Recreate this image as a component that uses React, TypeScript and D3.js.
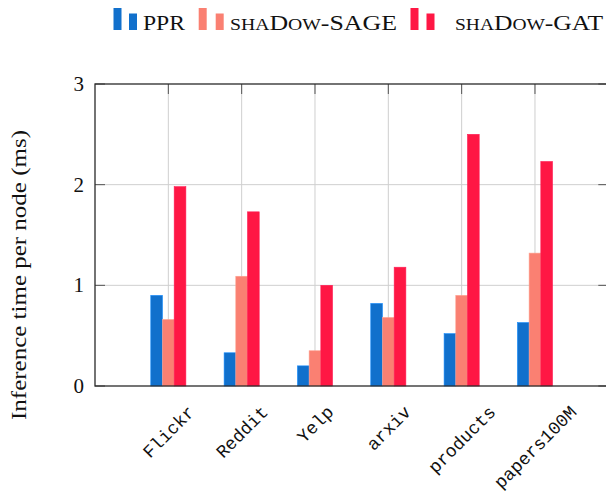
import React, { useEffect, useRef } from 'react';
import * as d3 from 'd3';

// values (ms per node)
const categories = ['Flickr', 'Reddit', 'Yelp', 'arxiv', 'products', 'papers100M'];
const pprTimes = [0.9, 0.33, 0.2, 0.82, 0.52, 0.63];
const sageTimes = [0.66, 1.09, 0.35, 0.68, 0.9, 1.32];
const gatTimes = [1.98, 1.73, 1.0, 1.18, 2.5, 2.23];
const yTicks = [0, 1, 2, 3];

const seriesNames = ['PPR', 'shaDow-SAGE', 'shaDow-GAT'];
const seriesColors = ['#1170cc', '#fa8072', '#ff1744'];

const WIDTH = 606;
const HEIGHT = 502;

const App: React.FC = () => {
  const svgRef = useRef<SVGSVGElement>(null);

  useEffect(() => {
    if (!svgRef.current) return;
    const svg = d3.select(svgRef.current);
    svg.selectAll('*').remove();

    const left = 95;
    const right = 608.3;
    const top = 84;
    const bottom = 386;
    const barWidth = 11.7;
    const serif = '"Liberation Serif", "Times New Roman", serif';
    const mono = '"Liberation Mono", "DejaVu Sans Mono", monospace';

    const series = [pprTimes, sageTimes, gatTimes].map((values, i) => ({
      name: seriesNames[i],
      color: seriesColors[i],
      values
    }));

    const x = d3.scalePoint<string>().domain(categories).range([left, right]).padding(1);
    const y = d3.scaleLinear().domain([0, 3]).range([bottom, top]);

    // grid
    const grid = svg.append('g').attr('stroke', '#cfcfcf').attr('stroke-width', 1);
    grid.selectAll('.vgrid')
      .data(categories)
      .enter()
      .append('line')
      .attr('x1', d => x(d)!)
      .attr('x2', d => x(d)!)
      .attr('y1', top)
      .attr('y2', bottom);
    grid.selectAll('.hgrid')
      .data(yTicks.filter(t => t > 0 && t < 3))
      .enter()
      .append('line')
      .attr('x1', left)
      .attr('x2', right)
      .attr('y1', d => y(d))
      .attr('y2', d => y(d));

    // inward ticks on all four sides
    const ticks = svg.append('g').attr('stroke', '#555').attr('stroke-width', 1);
    yTicks.forEach(t => {
      ticks.append('line').attr('x1', left).attr('x2', left + 10).attr('y1', y(t)).attr('y2', y(t));
      ticks.append('line').attr('x1', right - 10).attr('x2', right).attr('y1', y(t)).attr('y2', y(t));
    });
    categories.forEach(c => {
      ticks.append('line').attr('x1', x(c)!).attr('x2', x(c)!).attr('y1', top).attr('y2', top + 10);
      ticks.append('line').attr('x1', x(c)!).attr('x2', x(c)!).attr('y1', bottom - 10).attr('y2', bottom);
    });

    // bars
    series.forEach((s, si) => {
      svg.append('g')
        .selectAll('rect')
        .data(s.values)
        .enter()
        .append('rect')
        .attr('x', (d, i) => x(categories[i])! + (si - 1.5) * barWidth)
        .attr('y', d => y(d))
        .attr('width', barWidth)
        .attr('height', d => bottom - y(d))
        .attr('fill', s.color)
        .attr('stroke', d3.color(s.color)!.brighter(0.6).toString())
        .attr('stroke-width', 0.6);
    });

    // frame
    svg.append('rect')
      .attr('x', left)
      .attr('y', top)
      .attr('width', right - left)
      .attr('height', bottom - top)
      .attr('fill', 'none')
      .attr('stroke', '#2a2a2a')
      .attr('stroke-width', 1.3);

    // y tick labels
    svg.append('g')
      .selectAll('text')
      .data(yTicks)
      .enter()
      .append('text')
      .attr('x', left - 11)
      .attr('y', d => y(d) + 7)
      .attr('text-anchor', 'end')
      .attr('font-family', serif)
      .attr('font-size', 21)
      .attr('fill', '#111')
      .text(d => d);

    // y axis title
    svg.append('text')
      .attr('transform', `translate(26,275) rotate(-90)`)
      .attr('text-anchor', 'middle')
      .attr('font-family', serif)
      .attr('font-size', 21)
      .attr('fill', '#111')
      .attr('textLength', 290)
      .attr('lengthAdjust', 'spacingAndGlyphs')
      .text('Inference time per node (ms)');

    // x tick labels, rotated 45deg, bounding box top-centred under the tick
    const labelTop = 403;
    const fs = 18;
    categories.forEach(c => {
      const t = svg.append('text')
        .attr('text-anchor', 'middle')
        .attr('dy', '0.35em')
        .attr('font-family', mono)
        .attr('font-size', fs)
        .attr('fill', '#111')
        .text(c);
      const len = (t.node() as SVGTextElement).getComputedTextLength();
      const half = ((len + fs * 0.9) * Math.SQRT1_2) / 2;
      t.attr('transform', `translate(${x(c)},${labelTop + half}) rotate(-45)`);
    });

    // legend
    const legendItems = [
      { icon: [117.5, 133], textX: 143, textLen: 42 },
      { icon: [202.7, 219.7], textX: 230, textLen: 167 },
      { icon: [414.5, 430.5], textX: 455, textLen: 148 }
    ];
    const legend = svg.append('g');
    legendItems.forEach((item, i) => {
      const s = series[i];
      [22, 16.5].forEach((h, k) => {
        legend.append('rect')
          .attr('x', item.icon[k] - 4)
          .attr('y', 30 - h)
          .attr('width', 8)
          .attr('height', h)
          .attr('fill', s.color);
      });
      const txt = legend.append('text')
        .attr('x', item.textX)
        .attr('y', 29.5)
        .attr('font-family', serif)
        .attr('font-size', 21)
        .attr('fill', '#111')
        .attr('textLength', item.textLen)
        .attr('lengthAdjust', 'spacingAndGlyphs');
      if (s.name.startsWith('shaDow')) {
        // small caps by hand: "sha" small, "D" full, "ow" small
        txt.append('tspan').attr('font-size', 16).text('SHA');
        txt.append('tspan').text('D');
        txt.append('tspan').attr('font-size', 16).text('OW');
        txt.append('tspan').text(s.name.slice(6));
      } else {
        txt.text(s.name);
      }
    });
  }, []);

  return (
    <svg
      ref={svgRef}
      width={WIDTH}
      height={HEIGHT}
      style={{ position: 'absolute', left: 0, top: 0, background: '#fff' }}
    />
  );
};

export default App;
